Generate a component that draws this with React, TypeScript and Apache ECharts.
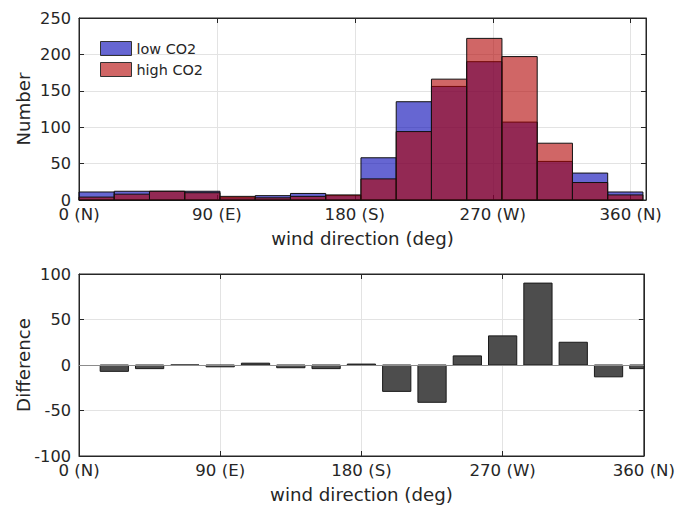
import React, { useEffect, useRef } from "react";
import * as echarts from "echarts";

// Histogram bins (wind direction, deg)
const binEdges = [0, 23, 46, 69, 92, 115, 138, 161, 184, 207, 230, 253, 276, 299, 322, 345, 368];
const lowCO2 = [11, 12, 12, 12, 3, 6, 9, 6, 58, 135, 156, 190, 107, 53, 37, 11];
const highCO2 = [4, 8, 12, 10, 5, 3, 5, 7, 29, 94, 166, 222, 197, 78, 24, 7];

// Difference bars (high - low)
const diffCenters = [22.5, 45, 67.5, 90, 112.5, 135, 157.5, 180, 202.5, 225, 247.5, 270, 292.5, 315, 337.5, 360];
const diffValues = [-7, -4, 0, -2, 2, -3, -4, 1, -29, -41, 10, 32, 90, 25, -13, -4];

const xTickValues = [0, 90, 180, 270, 360];
const xTickLabels = ["0 (N)", "90 (E)", "180 (S)", "270 (W)", "360 (N)"];

const TXT = "#262626";
const GRIDC = "#e3e3e3";
const FONT = "DejaVu Sans";

function xFmt(v: number) {
  const i = xTickValues.indexOf(v);
  return i >= 0 ? xTickLabels[i] : "";
}

export default function App() {
  const ref = useRef<HTMLDivElement>(null);
  useEffect(() => {
    if (!ref.current) return;
    const chart = echarts.init(ref.current, null, { renderer: "svg" });

    const histData = (vals: number[]) =>
      vals.map((v, i) => [binEdges[i], binEdges[i + 1], v]);

    const histRender = (fill: string) => (params: any, api: any) => {
      const p0 = api.coord([api.value(0), api.value(2)]);
      const p1 = api.coord([api.value(1), 0]);
      return {
        type: "rect",
        shape: { x: p0[0], y: p0[1], width: p1[0] - p0[0], height: p1[1] - p0[1] },
        style: { fill, stroke: "#111", lineWidth: 1 },
      };
    };

    const barHalf = 9;
    const diffRender = (params: any, api: any) => {
      const x = api.value(0);
      const v = api.value(1);
      const p0 = api.coord([x - barHalf, v]);
      const p1 = api.coord([x + barHalf, 0]);
      const shape = {
        x: Math.min(p0[0], p1[0]),
        y: Math.min(p0[1], p1[1]),
        width: Math.abs(p1[0] - p0[0]),
        height: Math.abs(p1[1] - p0[1]),
      };
      const cs = params.coordSys;
      const clipped = echarts.graphic.clipRectByRect(shape, {
        x: cs.x,
        y: cs.y,
        width: cs.width,
        height: cs.height,
      });
      if (!clipped) return null;
      return {
        type: "rect",
        shape: clipped,
        style: { fill: "#4d4d4d", stroke: "#1a1a1a", lineWidth: 1 },
      };
    };

    const mkX = (gi: number, max: number, withLabels: boolean, pos: string) => ({
      type: "value",
      gridIndex: gi,
      position: pos,
      min: 0,
      max,
      interval: 90,
      name: withLabels ? "wind direction (deg)" : "",
      nameLocation: "middle",
      nameGap: 29,
      nameMoveOverlap: false,
      nameTextStyle: { color: TXT, fontSize: 18.2, fontFamily: FONT },
      axisLine: { show: true, onZero: false, lineStyle: { color: TXT, width: 1 } },
      axisTick: { show: true, inside: true, length: 5, lineStyle: { color: TXT } },
      axisLabel: {
        show: withLabels,
        formatter: xFmt,
        color: TXT,
        fontSize: 16.6,
        fontFamily: FONT,
        margin: 6,
        showMaxLabel: true,
      },
      splitLine: { show: withLabels, lineStyle: { color: GRIDC, width: 1 } },
    });

    const mkY = (gi: number, min: number, max: number, name: string, withLabels: boolean, pos: string) => ({
      type: "value",
      gridIndex: gi,
      position: pos,
      min,
      max,
      interval: 50,
      name: withLabels ? name : "",
      nameLocation: "middle",
      nameGap: 47,
      nameMoveOverlap: false,
      nameTextStyle: { color: TXT, fontSize: 18.2, fontFamily: FONT },
      axisLine: { show: true, onZero: false, lineStyle: { color: TXT, width: 1 } },
      axisTick: { show: true, inside: true, length: 5, lineStyle: { color: TXT } },
      axisLabel: { show: withLabels, color: TXT, fontSize: 16.2, fontFamily: FONT, margin: 8 },
      splitLine: { show: withLabels, lineStyle: { color: GRIDC, width: 1 } },
    });

    chart.setOption({
      animation: false,
      backgroundColor: "#fff",
      grid: [
        { left: 79, top: 18, width: 567, height: 182, show: true, borderColor: TXT, borderWidth: 1 },
        { left: 79, top: 274, width: 567, height: 182, show: true, borderColor: TXT, borderWidth: 1 },
      ],
      legend: {
        data: ["low CO2", "high CO2"],
        orient: "vertical",
        left: 95,
        top: 36,
        itemWidth: 31,
        itemHeight: 14,
        itemGap: 6,
        icon: "rect",
        itemStyle: { borderWidth: 1, borderColor: "#333" },
        textStyle: { color: TXT, fontSize: 14.4, fontFamily: FONT },
      },
      xAxis: [
        mkX(0, 370, true, "bottom"),
        mkX(0, 370, false, "top"),
        mkX(1, 360, true, "bottom"),
        mkX(1, 360, false, "top"),
      ],
      yAxis: [
        mkY(0, 0, 250, "Number", true, "left"),
        mkY(0, 0, 250, "Number", false, "right"),
        mkY(1, -100, 100, "Difference", true, "left"),
        mkY(1, -100, 100, "Difference", false, "right"),
      ],
      series: [
        {
          type: "custom",
          name: "low CO2",
          xAxisIndex: 0,
          yAxisIndex: 0,
          data: histData(lowCO2),
          encode: { x: [0, 1], y: 2 },
          renderItem: histRender("rgba(0,0,180,0.6)"),
          itemStyle: { color: "rgba(0,0,180,0.6)", borderColor: "#333", borderWidth: 1 },
        },
        {
          type: "custom",
          name: "high CO2",
          xAxisIndex: 0,
          yAxisIndex: 0,
          data: histData(highCO2),
          encode: { x: [0, 1], y: 2 },
          renderItem: histRender("rgba(177,0,0,0.6)"),
          itemStyle: { color: "rgba(177,0,0,0.6)", borderColor: "#333", borderWidth: 1 },
        },
        {
          type: "custom",
          name: "difference",
          xAxisIndex: 2,
          yAxisIndex: 2,
          data: diffCenters.map((c, i) => [c, diffValues[i]]),
          encode: { x: 0, y: 1 },
          renderItem: diffRender,
          markLine: {
            silent: true,
            symbol: "none",
            label: { show: false },
            lineStyle: { color: "#8c8c8c", width: 1, type: "solid" },
            data: [{ yAxis: 0 }],
          },
        },
      ],
    });
    return () => chart.dispose();
  }, []);
  return (
    <div
      ref={ref}
      style={{ position: "absolute", left: 0, top: 0, width: 678, height: 505 }}
    />
  );
}
